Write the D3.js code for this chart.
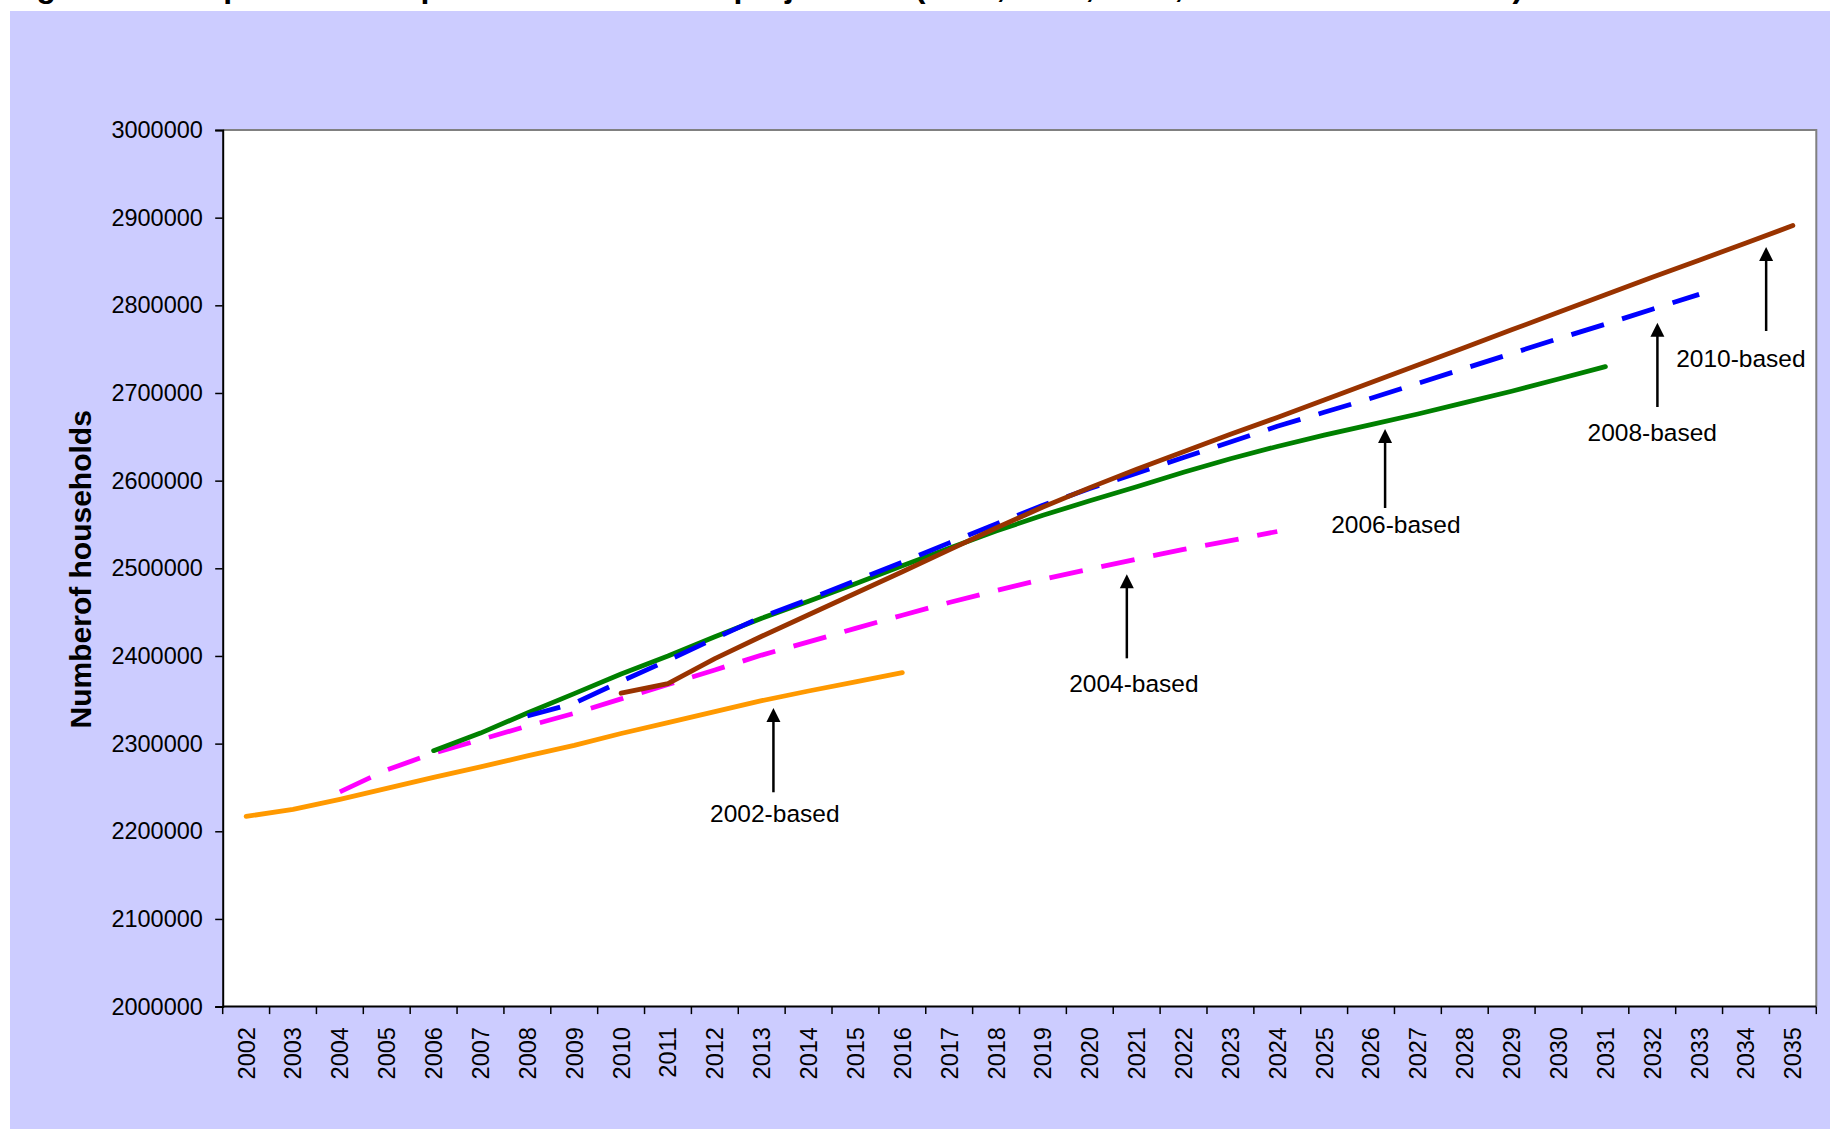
<!DOCTYPE html>
<html>
<head>
<meta charset="utf-8">
<script src="https://cdn.jsdelivr.net/npm/d3@7"></script>
<style>
  html, body { margin: 0; padding: 0; background: #ffffff; }
  svg { display: block; font-family: "Liberation Sans", Arial, Helvetica, sans-serif; }
</style>
</head>
<body>
<svg id="chart" width="1830" height="1129"></svg>
<script>
// ---- Data -------------------------------------------------------------
const yearLabels = ["2002","2003","2004","2005","2006","2007","2008","2009","2010","2011",
  "2012","2013","2014","2015","2016","2017","2018","2019","2020","2021","2022","2023",
  "2024","2025","2026","2027","2028","2029","2030","2031","2032","2033","2034","2035"];

const yTicks = [2000000, 2100000, 2200000, 2300000, 2400000, 2500000,
  2600000, 2700000, 2800000, 2900000, 3000000];

// Projected number of households, one array per projection base year
const based2002 = [2217000, 2225000, 2236500, 2249000, 2261500, 2273500, 2286000, 2298000,
  2311500, 2324000, 2336500, 2349000, 2360000, 2370500, 2381000];          // 2002-2016
const based2004 = [2245000, 2270000, 2289000, 2304500, 2320000, 2334500, 2351000, 2367500,
  2384000, 2401000, 2416000, 2431500, 2446500, 2461000, 2474500, 2487500, 2499000,
  2510500, 2521500, 2531500, 2542000];                                       // 2004-2024
const based2006 = [2292000, 2312000, 2335000, 2357000, 2379500, 2400000, 2422000, 2443000,
  2462500, 2482500, 2503000, 2523000, 2542500, 2560500, 2577000, 2593000, 2609500,
  2625000, 2639000, 2652000, 2664000, 2676000, 2689000, 2702000, 2716000, 2730000]; // 2006-2031
const based2008 = [2331500, 2346000, 2371000, 2395000, 2420000, 2444500, 2464500, 2486000,
  2507000, 2529000, 2550500, 2572000, 2591000, 2608500, 2626500, 2644000, 2662000,
  2678000, 2694000, 2711000, 2728000, 2745000, 2762000, 2778500, 2795500, 2812500]; // 2008-2033
const based2010 = [2357500, 2368500, 2397000, 2422500, 2447000, 2471500, 2496000, 2521000,
  2546000, 2570000, 2592000, 2613000, 2633000, 2653000, 2672000, 2692000, 2712000,
  2732000, 2752000, 2772000, 2792000, 2812000, 2832000, 2851500, 2871000, 2891000]; // 2010-2035

const seriesNames  = ["2002-based", "2004-based", "2006-based", "2008-based", "2010-based"];
const seriesStarts = ["2002", "2004", "2006", "2008", "2010"];
const seriesValues = [based2002, based2004, based2006, based2008, based2010];
const seriesColors = ["#ff9900", "#ff00ff", "#008000", "#0000ff", "#993300"];
const seriesDashed = [false, true, false, true, false];

// Callout labels: arrow x (as fractional year), arrow tip / tail and label baseline (households)
const calloutYear  = [2013.25, 2020.79, 2026.30, 2032.11, 2034.43];
const calloutTextX = [2013.28, 2020.94, 2026.53, 2032.00, 2033.89];
const calloutTip   = [2340500, 2493200, 2659000, 2780000, 2866500];
const calloutTail  = [2244500, 2397300, 2568800, 2684000, 2770700];
const calloutText  = [2211000, 2358500, 2539900, 2645700, 2729600];

const titleText = "Figure 5: Comparison with previous household projections (2002, 2004, 2006, 2008 and 2010-based)";
const yTitle = "Numberof households";

// ---- Layout -----------------------------------------------------------
const W = 1830, H = 1129;
const plot = { left: 222.7, right: 1816.3, top: 130, bottom: 1006.6 };

const svg = d3.select("#chart");

// page background panel
svg.append("rect")
  .attr("x", 10).attr("y", 11)
  .attr("width", W - 10).attr("height", H - 11)
  .attr("fill", "#ccccff");

// title (sits above the panel)
svg.append("text")
  .attr("x", 8).attr("y", -3.5)
  .attr("font-size", 32).attr("font-weight", "bold")
  .attr("fill", "#000")
  .text(titleText);

// plot area
svg.append("rect")
  .attr("x", plot.left).attr("y", plot.top)
  .attr("width", plot.right - plot.left).attr("height", plot.bottom - plot.top)
  .attr("fill", "#ffffff");

const x = d3.scaleBand().domain(yearLabels).range([plot.left, plot.right]).padding(0);
const y = d3.scaleLinear().domain([2000000, 3000000]).range([plot.bottom, plot.top]);

const xCenter = d => x(d) + x.bandwidth() / 2;
const xAt = yr => x(yearLabels[0]) + x.bandwidth() / 2 + (yr - +yearLabels[0]) * x.step();

// top and right frame (grey)
svg.append("path")
  .attr("d", `M${plot.left},${plot.top}H${plot.right}V${plot.bottom}`)
  .attr("fill", "none").attr("stroke", "#808080").attr("stroke-width", 2);

// y axis
const yAxis = svg.append("g")
  .attr("transform", `translate(${plot.left},0)`)
  .call(d3.axisLeft(y).tickValues(yTicks).tickSize(7.5).tickPadding(12.3).tickFormat(d3.format("d")));
yAxis.select(".domain").attr("stroke", "#000").attr("stroke-width", 2);
yAxis.selectAll(".tick line").attr("stroke", "#000").attr("stroke-width", 1.5);
yAxis.selectAll(".tick text")
  .attr("font-size", 23.5).attr("font-family", "'Liberation Sans', Arial, sans-serif")
  .attr("fill", "#000");

// x axis: ticks on category boundaries, rotated labels
const xAxis = svg.append("g");
xAxis.append("line")
  .attr("x1", plot.left).attr("x2", plot.right)
  .attr("y1", plot.bottom).attr("y2", plot.bottom)
  .attr("stroke", "#000").attr("stroke-width", 2);
const boundaries = yearLabels.map(d => x(d)).concat([x(yearLabels[yearLabels.length - 1]) + x.bandwidth()]);
xAxis.selectAll("line.tick").data(boundaries).enter().append("line")
  .attr("class", "tick")
  .attr("x1", d => d).attr("x2", d => d)
  .attr("y1", plot.bottom).attr("y2", plot.bottom + 7.5)
  .attr("stroke", "#000").attr("stroke-width", 1.5);
xAxis.selectAll("text").data(yearLabels).enter().append("text")
  .attr("transform", d => `translate(${xCenter(d)},${plot.bottom + 20.5}) rotate(-90)`)
  .attr("text-anchor", "end")
  .attr("dy", "0.36em")
  .attr("font-size", 23.5)
  .attr("fill", "#000")
  .text(d => d);

// y axis title
svg.append("text")
  .attr("transform", `translate(90.5,${(plot.top + plot.bottom) / 2 + 1}) rotate(-90)`)
  .attr("text-anchor", "middle")
  .attr("font-size", 30).attr("font-weight", "bold")
  .attr("fill", "#000")
  .text(yTitle);

// projection lines
const line = d3.line()
  .x(d => xCenter(d.year))
  .y(d => y(d.value));

seriesNames.forEach((name, i) => {
  const startIdx = yearLabels.indexOf(seriesStarts[i]);
  const pts = seriesValues[i].map((v, k) => ({ year: yearLabels[startIdx + k], value: v }));
  svg.append("path")
    .datum(pts)
    .attr("d", line)
    .attr("fill", "none")
    .attr("stroke", seriesColors[i])
    .attr("stroke-width", 4.8)
    .attr("stroke-linejoin", "round")
    .attr("stroke-linecap", seriesDashed[i] ? "butt" : "round")
    .attr("stroke-dasharray", seriesDashed[i] ? "34,19" : null);
});

// callouts: arrow + label
const headLen = 14, headHalf = 7;
seriesNames.forEach((name, i) => {
  const ax = xAt(calloutYear[i]);
  const tipY = y(calloutTip[i]);
  const tailY = y(calloutTail[i]);
  svg.append("line")
    .attr("x1", ax).attr("x2", ax)
    .attr("y1", tailY).attr("y2", tipY + headLen - 1)
    .attr("stroke", "#000").attr("stroke-width", 2.5);
  svg.append("path")
    .attr("d", `M${ax},${tipY}L${ax - headHalf},${tipY + headLen}L${ax + headHalf},${tipY + headLen}Z`)
    .attr("fill", "#000");
  svg.append("text")
    .attr("x", xAt(calloutTextX[i]))
    .attr("y", y(calloutText[i]))
    .attr("text-anchor", "middle")
    .attr("font-size", 24.5)
    .attr("fill", "#000")
    .text(name);
});
</script>
</body>
</html>
